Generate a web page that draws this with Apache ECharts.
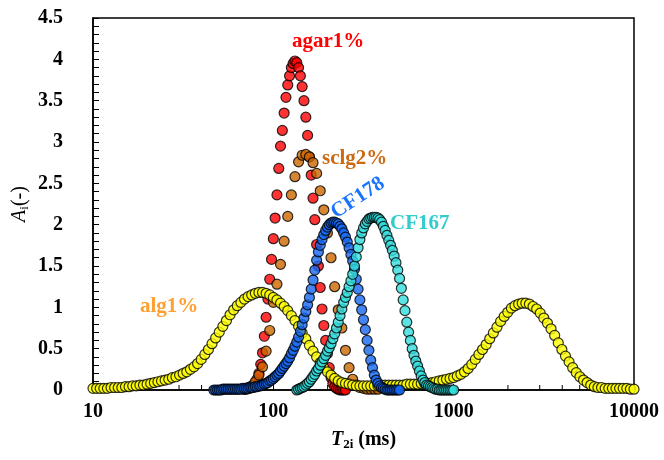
<!DOCTYPE html>
<html>
<head>
<meta charset="utf-8">
<script src="https://cdn.jsdelivr.net/npm/echarts@6/dist/echarts.min.js"></script>
<style>
  html, body { margin: 0; padding: 0; background: #fff; }
  #chart { width: 664px; height: 460px; }
</style>
</head>
<body>
<div id="chart"></div>
<script>
// T2 grid, 50 points per decade (alg1%, sclg2%)
const t2Coarse = [
  10, 10.47, 10.96, 11.48, 12.02, 12.59, 13.18, 13.80, 14.45, 15.14,
  15.85, 16.60, 17.38, 18.20, 19.05, 19.95, 20.89, 21.88, 22.91, 23.99,
  25.12, 26.30, 27.54, 28.84, 30.20, 31.62, 33.11, 34.67, 36.31, 38.02,
  39.81, 41.69, 43.65, 45.71, 47.86, 50.12, 52.48, 54.95, 57.54, 60.26,
  63.10, 66.07, 69.18, 72.44, 75.86, 79.43, 83.18, 87.10, 91.20, 95.50,
  100, 104.7, 109.6, 114.8, 120.2, 125.9, 131.8, 138.0, 144.5, 151.4,
  158.5, 166.0, 173.8, 182.0, 190.5, 199.5, 208.9, 218.8, 229.1, 239.9,
  251.2, 263.0, 275.4, 288.4, 302.0, 316.2, 331.1, 346.7, 363.1, 380.2,
  398.1, 416.9, 436.5, 457.1, 478.6, 501.2, 524.8, 549.5, 575.4, 602.6,
  631.0, 660.7, 691.8, 724.4, 758.6, 794.3, 831.8, 871.0, 912.0, 955.0,
  1000, 1047, 1096, 1148, 1202, 1259, 1318, 1380, 1445, 1514,
  1585, 1660, 1738, 1820, 1905, 1995, 2089, 2188, 2291, 2399,
  2512, 2630, 2754, 2884, 3020, 3162, 3311, 3467, 3631, 3802,
  3981, 4169, 4365, 4571, 4786, 5012, 5248, 5495, 5754, 6026,
  6310, 6607, 6918, 7244, 7586, 7943, 8318, 8710, 9120, 9550,
  10000
];

// T2 grid, 100 points per decade, from 46.77 to 1000
const t2Fine = [
  46.77, 47.86, 48.98, 50.12, 51.29, 52.48, 53.70, 54.95, 56.23, 57.54,
  58.88, 60.26, 61.66, 63.10, 64.57, 66.07, 67.61, 69.18, 70.79, 72.44,
  74.13, 75.86, 77.62, 79.43, 81.28, 83.18, 85.11, 87.10, 89.13, 91.20,
  93.33, 95.50, 97.72, 100, 102.3, 104.7, 107.2, 109.6, 112.2, 114.8,
  117.5, 120.2, 123.0, 125.9, 128.8, 131.8, 134.9, 138.0, 141.3, 144.5,
  147.9, 151.4, 154.9, 158.5, 162.2, 166.0, 169.8, 173.8, 177.8, 182.0,
  186.2, 190.5, 195.0, 199.5, 204.2, 208.9, 213.8, 218.8, 223.9, 229.1,
  234.4, 239.9, 245.5, 251.2, 257.0, 263.0, 269.2, 275.4, 281.8, 288.4,
  295.1, 302.0, 309.0, 316.2, 323.6, 331.1, 338.8, 346.7, 354.8, 363.1,
  371.5, 380.2, 389.0, 398.1, 407.4, 416.9, 426.6, 436.5, 446.7, 457.1,
  467.7, 478.6, 489.8, 501.2, 512.9, 524.8, 537.0, 549.5, 562.3, 575.4,
  588.8, 602.6, 616.6, 631.0, 645.7, 660.7, 676.1, 691.8, 707.9, 724.4,
  741.3, 758.6, 776.2, 794.3, 812.8, 831.8, 851.1, 871.0, 891.3, 912.0,
  933.3, 955.0, 977.2, 1000
];

// alg1% (on t2Coarse, from index 0)
const alg1 = [
  0.02, 0.02, 0.02, 0.02, 0.02, 0.03, 0.03, 0.03, 0.03, 0.04,
  0.04, 0.05, 0.05, 0.06, 0.06, 0.07, 0.08, 0.09, 0.10, 0.11,
  0.12, 0.13, 0.15, 0.16, 0.18, 0.20, 0.22, 0.25, 0.28, 0.32,
  0.37, 0.43, 0.49, 0.56, 0.63, 0.70, 0.77, 0.84, 0.91, 0.97,
  1.02, 1.06, 1.10, 1.13, 1.15, 1.17, 1.18, 1.18, 1.17, 1.15,
  1.12, 1.09, 1.05, 1.01, 0.96, 0.90, 0.84, 0.77, 0.69, 0.62,
  0.54, 0.47, 0.40, 0.33, 0.27, 0.22, 0.18, 0.14, 0.11, 0.09,
  0.08, 0.07, 0.06, 0.05, 0.05, 0.05, 0.05, 0.05, 0.05, 0.05,
  0.06, 0.06, 0.06, 0.06, 0.06, 0.06, 0.06, 0.07, 0.07, 0.07,
  0.07, 0.08, 0.08, 0.08, 0.09, 0.10, 0.11, 0.12, 0.13, 0.14,
  0.15, 0.17, 0.19, 0.22, 0.26, 0.31, 0.37, 0.43, 0.49, 0.55,
  0.62, 0.69, 0.76, 0.83, 0.89, 0.94, 0.99, 1.02, 1.04, 1.05,
  1.05, 1.04, 1.01, 0.98, 0.93, 0.87, 0.81, 0.74, 0.66, 0.57,
  0.49, 0.41, 0.34, 0.27, 0.21, 0.16, 0.12, 0.09, 0.06, 0.04,
  0.03, 0.03, 0.02, 0.02, 0.02, 0.02, 0.02, 0.02, 0.02, 0.01,
  0.01
];

// agar1% (on t2Fine, from index 17)
const agar1Start = 17;
const agar1 = [
  0.01, 0.01, 0.02, 0.02, 0.03, 0.05, 0.08, 0.13, 0.20, 0.31,
  0.45, 0.65, 0.88, 1.10, 1.34, 1.58, 1.83, 2.08, 2.36, 2.68,
  2.95, 3.14, 3.35, 3.54, 3.69, 3.80, 3.90, 3.95, 3.98, 3.96,
  3.90, 3.80, 3.67, 3.50, 3.30, 3.08, 2.82, 2.60, 2.32, 2.06,
  1.76, 1.50, 1.24, 0.98, 0.78, 0.60, 0.44, 0.27, 0.15, 0.08,
  0.04, 0.02, 0.01, 0.00, 0.00, 0.00, 0.00
];

// sclg2% (on t2Coarse, from index 42)
const sclg2Start = 42;
const sclg2 = [
  0.01, 0.03, 0.05, 0.10, 0.18, 0.28, 0.47, 0.72, 1.06, 1.28,
  1.52, 1.80, 2.10, 2.36, 2.58, 2.76, 2.84, 2.85, 2.82, 2.75,
  2.62, 2.41, 2.18, 1.90, 1.60, 1.25, 0.97, 0.75, 0.48, 0.27,
  0.13, 0.06, 0.03, 0.02, 0.01, 0.01, 0.01, 0.01
];

// CF178 (on t2Fine, from index 0)
const cf178Start = 0;
const cf178 = [
  0.00, 0.00, 0.00, 0.00, 0.00, 0.01, 0.01, 0.01, 0.01, 0.01,
  0.01, 0.01, 0.01, 0.01, 0.01, 0.01, 0.02, 0.02, 0.02, 0.02,
  0.03, 0.03, 0.03, 0.04, 0.04, 0.05, 0.05, 0.06, 0.07, 0.08,
  0.09, 0.11, 0.12, 0.14, 0.16, 0.18, 0.20, 0.23, 0.26, 0.29,
  0.32, 0.35, 0.39, 0.44, 0.48, 0.53, 0.58, 0.64, 0.71, 0.79,
  0.87, 0.95, 1.03, 1.12, 1.22, 1.33, 1.45, 1.57, 1.67, 1.75,
  1.82, 1.88, 1.93, 1.97, 2.00, 2.02, 2.03, 2.03, 2.02, 2.01,
  1.98, 1.95, 1.90, 1.85, 1.79, 1.72, 1.64, 1.56, 1.46, 1.34,
  1.22, 1.09, 0.97, 0.85, 0.73, 0.60, 0.48, 0.36, 0.27, 0.18,
  0.12, 0.08, 0.05, 0.03, 0.02, 0.01, 0.00, 0.00, 0.00, 0.00,
  0.00, 0.00, 0.00, 0.00
];

// CF167 (on t2Fine, from index 46)
const cf167Start = 46;
const cf167 = [
  0.00, 0.01, 0.02, 0.03, 0.04, 0.06, 0.08, 0.10, 0.13, 0.16,
  0.19, 0.23, 0.26, 0.30, 0.34, 0.38, 0.42, 0.47, 0.51, 0.56,
  0.62, 0.68, 0.75, 0.82, 0.90, 0.98, 1.06, 1.12, 1.18, 1.25,
  1.32, 1.40, 1.50, 1.61, 1.72, 1.82, 1.90, 1.96, 2.01, 2.04,
  2.07, 2.08, 2.09, 2.09, 2.09, 2.08, 2.06, 2.03, 1.98, 1.93,
  1.87, 1.81, 1.75, 1.69, 1.62, 1.54, 1.45, 1.35, 1.23, 1.09,
  0.96, 0.82, 0.70, 0.60, 0.50, 0.42, 0.35, 0.29, 0.23, 0.17,
  0.12, 0.09, 0.06, 0.05, 0.04, 0.03, 0.02, 0.01, 0.01, 0.00,
  0.00, 0.00, 0.00, 0.00, 0.00, 0.00, 0.00, 0.00
];

const yTicks = ['0', '0.5', '1', '1.5', '2', '2.5', '3', '3.5', '4', '4.5'];
const xMinorMultipliers = [2, 3, 4, 5, 6, 7, 8, 9];
const xDecades = [10, 100, 1000];

const pairs = (grid, start, values) => values.map((a, i) => [grid[start + i], a]);

const minorTicks = [];
xDecades.forEach(d => xMinorMultipliers.forEach(m => minorTicks.push([m * d, 0])));

const serif = '"Liberation Serif", "Times New Roman", serif';

function dots(name, data, color) {
  return {
    name, type: 'scatter', data,
    symbol: 'circle', symbolSize: 10,
    itemStyle: { color, borderColor: '#000', borderWidth: 1.2 },
    emphasis: { disabled: true },
    silent: true
  };
}

const chart = echarts.init(document.getElementById('chart'), null, { renderer: 'canvas' });
chart.setOption({
  animation: false,
  backgroundColor: '#fff',
  grid: { left: 93, right: 30, top: 18, bottom: 70, show: true, borderColor: '#000', borderWidth: 1.5, backgroundColor: 'transparent' },
  xAxis: {
    type: 'log', logBase: 10, min: 10, max: 10000,
    name: '{i|T}{s|2i}{n| (ms)}', nameLocation: 'middle', nameGap: 38, nameMoveOverlap: false,
    nameTextStyle: {
      rich: {
        i: { fontFamily: serif, fontStyle: 'italic', fontWeight: 'bold', fontSize: 20, color: '#000' },
        s: { fontFamily: serif, fontWeight: 'bold', fontSize: 13, color: '#000', padding: [10, 0, 0, 0] },
        n: { fontFamily: serif, fontWeight: 'bold', fontSize: 20, color: '#000' }
      }
    },
    axisLine: { show: true, lineStyle: { color: '#000', width: 1.5 } },
    axisTick: { show: true, inside: true, length: 6, lineStyle: { color: '#000' } },
    axisLabel: {
      fontFamily: serif, fontWeight: 'bold', fontSize: 20, color: '#000', margin: 12,
      formatter: (v) => String(Math.round(v))
    },
    splitLine: { show: false }
  },
  yAxis: {
    type: 'value', min: 0, max: 4.5, interval: 0.5,
    name: '{i|A}{s|i}{n|(-)}', nameLocation: 'middle', nameGap: 62, nameRotate: 90, nameMoveOverlap: false,
    nameTextStyle: {
      rich: {
        i: { fontFamily: serif, fontStyle: 'italic', fontSize: 20, color: '#000' },
        s: { fontFamily: serif, fontSize: 13, color: '#000', padding: [10, 0, 0, 0] },
        n: { fontFamily: serif, fontSize: 20, color: '#000' }
      }
    },
    axisLine: { show: true, lineStyle: { color: '#000', width: 1.5 } },
    axisTick: { show: true, inside: true, length: 6, lineStyle: { color: '#000' } },
    minorTick: { show: true, splitNumber: 5, length: 6, lineStyle: { color: '#000' } },
    axisLabel: {
      fontFamily: serif, fontWeight: 'bold', fontSize: 20, color: '#000', margin: 30,
      formatter: (v) => yTicks[Math.round(v * 2)]
    },
    splitLine: { show: false }
  },
  graphic: [
    { type: 'text', left: 292, top: 31, style: { text: 'agar1%', fill: '#ff0000', font: 'bold 21px ' + serif } },
    { type: 'text', left: 322, top: 148, style: { text: 'sclg2%', fill: '#cc6a14', font: 'bold 21px ' + serif } },
    { type: 'text', x: 358, y: 198, rotation: 0.58, style: { text: 'CF178', fill: '#1a73ff', font: 'bold 21px ' + serif, align: 'center', verticalAlign: 'middle' } },
    { type: 'text', left: 390, top: 213, style: { text: 'CF167', fill: '#33cccc', font: 'bold 21px ' + serif } },
    { type: 'text', left: 140, top: 296, style: { text: 'alg1%', fill: '#ffa030', font: 'bold 21px ' + serif } }
  ],
  series: [
    {
      type: 'custom', data: minorTicks, silent: true, z: 1,
      renderItem: (params, api) => {
        const p = api.coord([api.value(0), 0]);
        return { type: 'line', shape: { x1: p[0], y1: p[1], x2: p[0], y2: p[1] - 5 }, style: { stroke: '#000', lineWidth: 1 } };
      }
    },
    dots('agar1%', pairs(t2Fine, agar1Start, agar1), '#ff0000'),
    dots('sclg2%', pairs(t2Coarse, sclg2Start, sclg2), '#cc6600'),
    dots('alg1%', pairs(t2Coarse, 0, alg1), '#ffff00'),
    dots('CF178', pairs(t2Fine, cf178Start, cf178), '#1466f0'),
    dots('CF167', pairs(t2Fine, cf167Start, cf167), '#33dddd')
  ]
});
</script>
</body>
</html>
